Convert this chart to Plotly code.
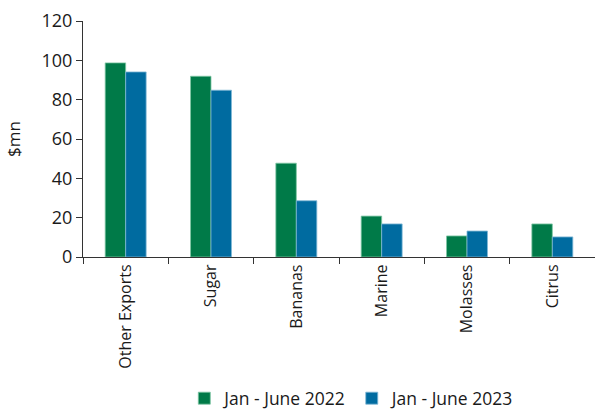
import plotly.graph_objects as go

# Export earnings by commodity, $mn
categories = ["Other Exports", "Sugar", "Bananas", "Marine", "Molasses", "Citrus"]
jan_jun_2022 = [98.7, 91.9, 47.7, 20.8, 10.7, 16.8]
jan_jun_2023 = [94.1, 84.8, 28.6, 16.8, 13.2, 10.2]

y_ticks = [0, 20, 40, 60, 80, 100, 120]

GREEN = "#007A48"
BLUE = "#006BA0"
FONT = "Open Sans"
INK = "#1a1a1a"

fig = go.Figure()
fig.add_trace(go.Bar(
    x=categories, y=jan_jun_2022, name="Jan - June 2022",
    marker=dict(color=GREEN, line=dict(color="#7fc6a4", width=0.8)),
))
fig.add_trace(go.Bar(
    x=categories, y=jan_jun_2023, name="Jan - June 2023",
    marker=dict(color=BLUE, line=dict(color="#80b8d6", width=0.8)),
))

fig.update_layout(
    width=595, height=417,
    margin=dict(l=83, r=0, t=21, b=160),
    paper_bgcolor="white", plot_bgcolor="white",
    barmode="group", bargap=0.52, bargroupgap=0,
    font=dict(family=FONT, size=15, color=INK),
    showlegend=True,
    legend=dict(
        orientation="h", x=0.525, xanchor="center", y=-0.675, yanchor="bottom",
        font=dict(family=FONT, size=17.5, color=INK),
        itemwidth=30, traceorder="normal", borderwidth=0,
    ),
)

fig.update_xaxes(
    type="category", showline=True, linecolor="#333333", linewidth=1.2,
    ticks="outside", tickson="boundaries", ticklen=6, tickcolor="#333333",
    tickangle=-90, showgrid=False, tickfont=dict(size=16),
)
fig.update_yaxes(
    range=[0, 120], tickvals=y_ticks, showline=True, linecolor="#333333",
    linewidth=1.2, ticks="outside", ticklen=6, tickcolor="#333333",
    showgrid=False, zeroline=False, tickfont=dict(size=18),
    title=dict(text="$mn", font=dict(size=17), standoff=16),
)

fig.write_html("out.html")
